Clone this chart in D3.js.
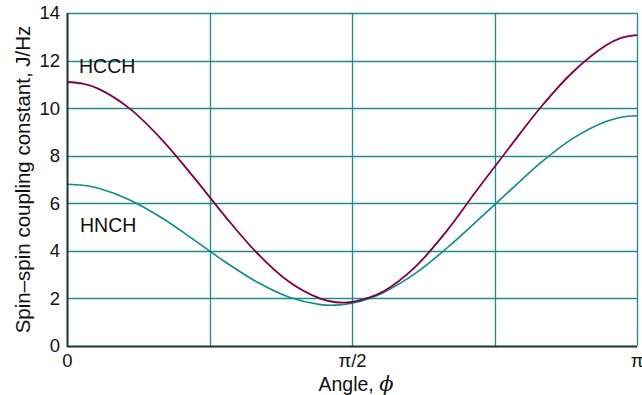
<!DOCTYPE html>
<html>
<head>
<meta charset="utf-8">
<script src="https://cdn.jsdelivr.net/npm/d3@7"></script>
<style>
  html, body { margin: 0; padding: 0; background: #fff; }
  svg { display: block; font-family: "Liberation Sans", Arial, Helvetica, sans-serif; }
</style>
</head>
<body>
<div id="chart"></div>
<script>
// Angle in degrees (0 .. 180 = 0 .. π)
const angles = [0, 5, 10, 20, 30, 40, 50, 60, 70, 80, 85, 90, 95, 100, 110, 120, 130, 140, 150, 160, 170, 175, 180];
const hcch = [11.10, 11.03, 10.81, 9.96, 8.67, 7.10, 5.44, 3.91, 2.71, 1.99, 1.84, 1.85, 2.02, 2.30, 3.33, 4.85, 6.65, 8.40, 10.10, 11.55, 12.62, 12.95, 13.07];
const hnch = [6.80, 6.76, 6.63, 6.13, 5.38, 4.47, 3.53, 2.69, 2.06, 1.74, 1.72, 1.80, 1.98, 2.25, 3.05, 4.12, 5.32, 6.55, 7.75, 8.75, 9.43, 9.62, 9.68];
const yTicks = [0, 2, 4, 6, 8, 10, 12, 14];
const xGrid = [45, 90, 135, 180];
const xTickValues = [0, 90, 180];
const xTickLabels = ["0", "π/2", "π"];
const seriesNames = ["HCCH", "HNCH"];

const W = 642, H = 395;
const margin = { left: 67, right: 5, top: 13, bottom: 49 };
const iw = W - margin.left - margin.right;
const ih = H - margin.top - margin.bottom;

const svg = d3.select("#chart").append("svg").attr("width", W).attr("height", H);
const g = svg.append("g").attr("transform", `translate(${margin.left},${margin.top})`);

const x = d3.scaleLinear().domain([0, 180]).range([0, iw]);
const y = d3.scaleLinear().domain([0, 14]).range([ih, 0]);

const gridColor = "#1f8c8c";

// horizontal gridlines
g.append("g").selectAll("line").data(yTicks.filter(d => d > 0)).join("line")
  .attr("x1", 0).attr("x2", iw)
  .attr("y1", d => Math.round(y(d)) + 0.5).attr("y2", d => Math.round(y(d)) + 0.5)
  .attr("stroke", gridColor).attr("stroke-width", 1.3);

// vertical gridlines
g.append("g").selectAll("line").data(xGrid).join("line")
  .attr("y1", 0).attr("y2", ih)
  .attr("x1", d => Math.round(x(d)) + 0.5).attr("x2", d => Math.round(x(d)) + 0.5)
  .attr("stroke", gridColor).attr("stroke-width", 1.3);

// curves
const line = d3.line().x((d, i) => x(angles[i])).y(d => y(d)).curve(d3.curveCatmullRom.alpha(0.5));
g.append("path").datum(hnch).attr("d", line).attr("fill", "none")
  .attr("stroke", "#0f8a8a").attr("stroke-width", 1.6);
g.append("path").datum(hcch).attr("d", line).attr("fill", "none")
  .attr("stroke", "#7d0048").attr("stroke-width", 1.8);

// axes lines
g.append("line").attr("x1", 0.5).attr("x2", 0.5).attr("y1", 0).attr("y2", ih + 1)
  .attr("stroke", "#173434").attr("stroke-width", 2);
g.append("line").attr("x1", 0).attr("x2", iw).attr("y1", ih + 0.5).attr("y2", ih + 0.5)
  .attr("stroke", "#173434").attr("stroke-width", 2);

// y tick labels
const yAxis = d3.axisLeft(y).tickValues(yTicks).tickSize(0).tickPadding(7);
const ya = g.append("g").call(yAxis);
ya.select(".domain").remove();
ya.selectAll("text").attr("font-size", 18.5).attr("fill", "#111")
  .attr("font-family", "'Liberation Sans', Arial, sans-serif");

// x tick labels
const xAxis = d3.axisBottom(x).tickValues(xTickValues).tickFormat((d, i) => xTickLabels[i]).tickSize(0).tickPadding(8);
const xa = g.append("g").attr("transform", `translate(0,${ih})`).call(xAxis);
xa.select(".domain").remove();
xa.selectAll("text").attr("font-size", 18.5).attr("fill", "#111")
  .attr("font-family", "'Liberation Sans', Arial, sans-serif");
xa.selectAll("text").filter((d) => d === 180).attr("text-anchor", "end").attr("dx", 6);

// axis titles
const xt = svg.append("text").attr("x", margin.left + x(90) + 4).attr("y", 391)
  .attr("text-anchor", "middle").attr("font-size", 19.5).attr("fill", "#111");
xt.append("tspan").text("Angle, ");
xt.append("tspan").attr("font-style", "italic").attr("font-size", 21)
  .attr("font-family", "'DejaVu Serif', serif").text("ϕ");

svg.append("text")
  .attr("transform", `translate(30,${margin.top + ih / 2}) rotate(-90)`)
  .attr("text-anchor", "middle").attr("font-size", 20.5).attr("fill", "#111")
  .text("Spin–spin coupling constant, J/Hz");

// series labels
g.append("text").attr("x", 79 - margin.left).attr("y", 73 - margin.top)
  .attr("font-size", 19.5).attr("fill", "#111").text(seriesNames[0]);
g.append("text").attr("x", 80 - margin.left).attr("y", 232 - margin.top)
  .attr("font-size", 19.5).attr("fill", "#111").text(seriesNames[1]);
</script>
</body>
</html>
